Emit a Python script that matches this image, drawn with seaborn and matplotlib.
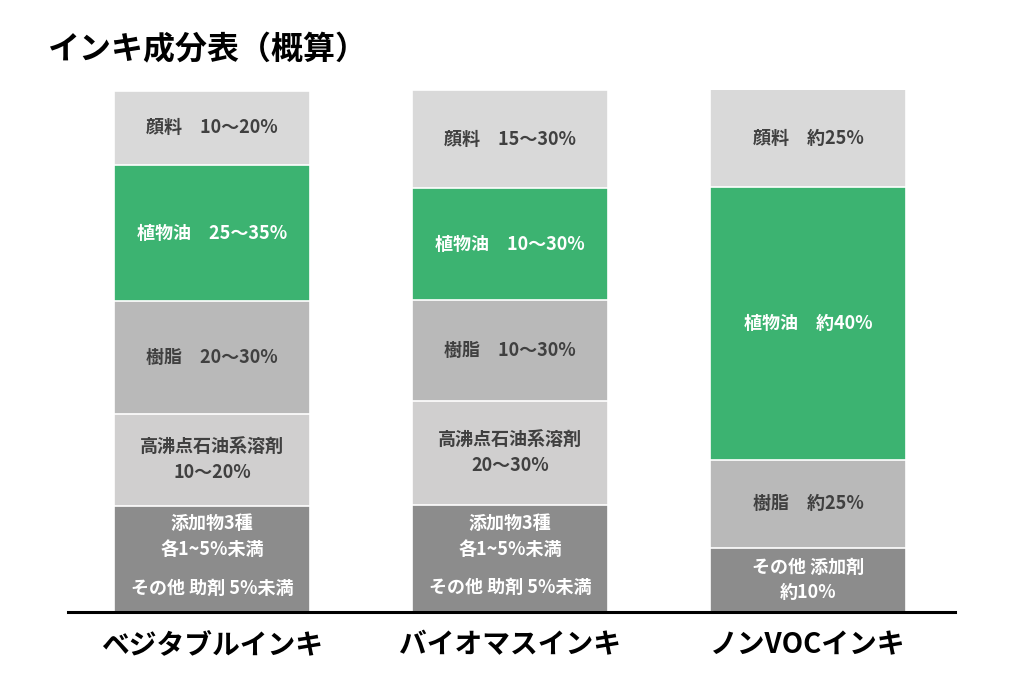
import matplotlib
matplotlib.use("Agg")
import matplotlib.pyplot as plt
import seaborn as sns
import pandas as pd
import numpy as np

sns.set_theme(style="white")
plt.rcParams['font.family'] = ['Noto Sans CJK JP', 'DejaVu Sans']

# ---- data ----
inks = ["ベジタブルインキ", "バイオマスインキ", "ノンVOCインキ"]

veg_components = ["その他", "溶剤", "樹脂", "植物油", "顔料"]
veg_values = [20.3, 17.6, 21.6, 26.2, 14.2]
veg_labels = ["添加物3種\n各1~5%未満|その他 助剤 5%未満", "高沸点石油系溶剤\n10〜20%",
              "樹脂　20〜30%", "植物油　25〜35%", "顔料　10〜20%"]

bio_components = ["その他", "溶剤", "樹脂", "植物油", "顔料"]
bio_values = [20.5, 19.9, 19.3, 21.5, 18.8]
bio_labels = ["添加物3種\n各1~5%未満|その他 助剤 5%未満", "高沸点石油系溶剤\n20〜30%",
              "樹脂　10〜30%", "植物油　10〜30%", "顔料　15〜30%"]

nonvoc_components = ["その他", "樹脂", "植物油", "顔料"]
nonvoc_values = [12.3, 16.9, 52.3, 18.6]
nonvoc_labels = ["その他 添加剤\n約10%", "樹脂　約25%", "植物油　約40%", "顔料　約25%"]

title = "インキ成分表（概算）"

colors = {"顔料": "#d9d9d9", "植物油": "#3cb371", "樹脂": "#b9b9b9",
          "溶剤": "#d0cfcf", "その他": "#8c8c8c"}
text_colors = {"顔料": "#404040", "植物油": "white", "樹脂": "#404040",
               "溶剤": "#404040", "その他": "white"}

# ---- build table ----
rows = []
for ink, comps, vals, labs in [(inks[0], veg_components, veg_values, veg_labels),
                               (inks[1], bio_components, bio_values, bio_labels),
                               (inks[2], nonvoc_components, nonvoc_values, nonvoc_labels)]:
    cum = np.cumsum(vals)
    for i, (c, v, l) in enumerate(zip(comps, vals, labs)):
        rows.append(dict(ink=ink, component=c, value=v, top=cum[i],
                         layer=len(comps) - 1 - i, label=l))
df = pd.DataFrame(rows)

fig = plt.figure(figsize=(10.24, 6.83), dpi=100)
ax = fig.add_axes([68 / 1024, 1 - 612 / 683, (955 - 68) / 1024, (612 - 90) / 683])

bar_w = 0.655
for layer in sorted(df["layer"].unique()):
    sub = df[df["layer"] == layer]
    sns.barplot(data=sub, x="ink", y="top", hue="component", palette=colors,
                order=inks, dodge=False, width=bar_w, edgecolor="white",
                linewidth=1.2, legend=False, saturation=1, ax=ax)

fs = 13
for _, r in df.iterrows():
    xi = inks.index(r["ink"])
    yc = r["top"] - r["value"] / 2
    col = text_colors[r["component"]]
    parts = r["label"].split("|")
    if len(parts) == 1:
        ax.text(xi, yc, parts[0], ha="center", va="center", color=col,
                fontsize=fs, fontweight="bold", linespacing=1.45)
    else:
        ax.annotate(parts[0], (xi, yc), xytext=(0, 16), textcoords="offset points",
                    ha="center", va="center", color=col, fontsize=fs,
                    fontweight="bold", linespacing=1.45)
        ax.annotate(parts[1], (xi, yc), xytext=(0, -21), textcoords="offset points",
                    ha="center", va="center", color=col, fontsize=fs,
                    fontweight="bold")

ax.set_ylim(0, 100)
ax.set_xlim(-0.483, 2.493)
ax.set_xlabel("")
ax.set_ylabel("")
ax.set_yticks([])
for s in ["top", "right", "left"]:
    ax.spines[s].set_visible(False)
ax.spines["bottom"].set_color("black")
ax.spines["bottom"].set_linewidth(2.2)
ax.spines["bottom"].set_zorder(5)
ax.tick_params(axis="x", length=0, pad=14)
for t in ax.get_xticklabels():
    t.set_fontsize(20)
    t.set_fontweight("bold")
    t.set_color("black")

fig.text(48 / 1024, 1 - 50 / 683, title, ha="left", va="center",
         fontsize=23, fontweight="bold", color="black")

fig.savefig("out.png", dpi=100, facecolor="white")
